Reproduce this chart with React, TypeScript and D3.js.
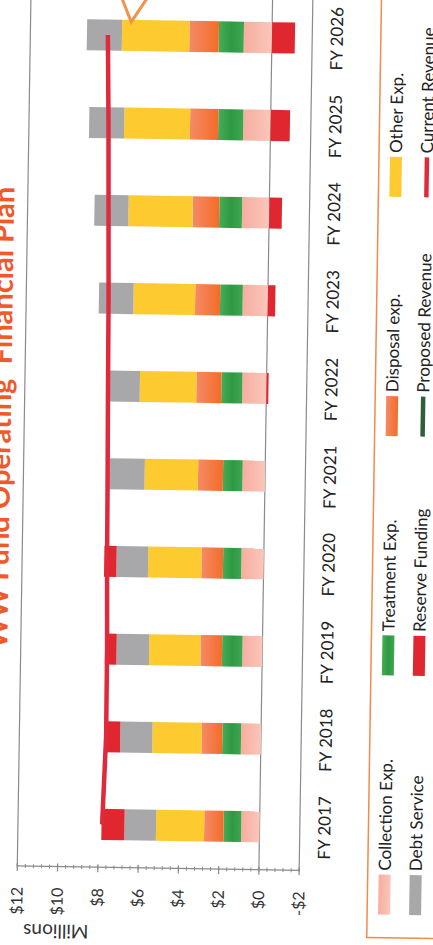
import React from 'react';
import * as d3 from 'd3';

// Fiscal years and the stacked budget components (millions of dollars)
const years = ['FY 2017', 'FY 2018', 'FY 2019', 'FY 2020', 'FY 2021', 'FY 2022', 'FY 2023', 'FY 2024', 'FY 2025', 'FY 2026'];
const collectionExp = [0.91, 0.99, 0.99, 1.11, 1.12, 1.2, 1.25, 1.35, 1.36, 1.4];
const treatmentExp = [0.88, 0.93, 1.01, 0.91, 0.97, 1.04, 1.12, 1.13, 1.24, 1.24];
const disposalExp = [0.96, 1.02, 1.06, 1.07, 1.24, 1.24, 1.24, 1.32, 1.4, 1.46];
const otherExp = [2.39, 2.45, 2.56, 2.65, 2.65, 2.81, 3.06, 3.19, 3.27, 3.35];
const debtService = [1.57, 1.6, 1.62, 1.57, 1.75, 1.54, 1.72, 1.69, 1.74, 1.74];
const reserveFunding = [1.14, 0.78, 0.57, 0.61, 0, -0.1, -0.37, -0.63, -0.96, -1.14];
const currentRevenue = [7.82, 7.69, 7.71, 7.78, 7.82, 7.87, 7.91, 7.98, 8.05, 8.15];

const valueTicks = [12, 10, 8, 6, 4, 2, 0, -2];
const seriesKeys = ['collection', 'treatment', 'disposal', 'other', 'debt', 'reserve'];
const seriesLabels = ['Collection Exp.', 'Treatment Exp.', 'Disposal exp.', 'Other Exp.', 'Debt Service', 'Reserve Funding'];
const lineLabels = ['Proposed Revenue', 'Current Revenue'];
const chartTitle = 'WW Fund Operating  Financial Plan';
const axisTitle = 'Millions';

const FONT = "Lato, 'Open Sans', sans-serif";

const fills: Record<string, string> = {
  collection: 'url(#g-collection)',
  treatment: 'url(#g-treatment)',
  disposal: 'url(#g-disposal)',
  other: '#FDCA30',
  debt: '#A8A8AB',
  reserve: '#E0262E',
};

const fmtMoney = (v: number) => (v < 0 ? `-$${-v}` : `$${v}`);

export default function App() {
  const W = 433;
  const H = 945;

  // value axis runs across the page, categories run bottom to top
  const x = d3.scaleLinear().domain([-2, 12]).range([305.4, 23.5]);
  const y = d3
    .scaleBand<string>()
    .domain(years)
    .range([870, -7])
    .paddingInner(0.646)
    .paddingOuter(0.323);
  const axisY = 869;

  const rows = years.map((yr, i) => ({
    year: yr,
    collection: collectionExp[i],
    treatment: treatmentExp[i],
    disposal: disposalExp[i],
    other: otherExp[i],
    debt: debtService[i],
    reserve: reserveFunding[i],
  }));
  const stacked = d3
    .stack<any>()
    .keys(seriesKeys)
    .offset(d3.stackOffsetDiverging)(rows);

  const revenueLine = d3
    .line<number>()
    .x((d) => x(d))
    .y((_, i) => (y(years[i]) as number) + y.bandwidth() / 2);

  const minorTicks = d3.range(-2, 12.0001, 0.4);

  // legend layout: two columns of four entries
  const legendCols = [397, 428];
  const legendBottom = 912;
  const legendStep = 239.3;
  const swatchLen = 40;
  const legendItems = [
    ...seriesLabels.map((label, i) => ({ label, kind: 'rect', fill: fills[seriesKeys[i]] })),
    { label: lineLabels[0], kind: 'line', fill: '#2E5E3C' },
    { label: lineLabels[1], kind: 'line', fill: '#DF2A3C' },
  ];

  const tipX = x(7);
  const tipY = (y('FY 2026') as number) + 2;

  return (
    <svg
      width={W}
      height={H}
      viewBox={`0 0 ${W} ${H}`}
      style={{ position: 'absolute', left: 0, top: 0, background: '#fff' }}
      fontFamily={FONT}
    >
      <defs>
        <linearGradient id="g-collection" x1="0" x2="1" y1="0" y2="0">
          <stop offset="0" stopColor="#F6AE9F" />
          <stop offset="1" stopColor="#FAC6BB" />
        </linearGradient>
        <linearGradient id="g-treatment" x1="0" x2="1" y1="0" y2="0">
          <stop offset="0" stopColor="#47AC55" />
          <stop offset="0.5" stopColor="#2E9944" />
          <stop offset="1" stopColor="#3EA74F" />
        </linearGradient>
        <linearGradient id="g-disposal" x1="0" x2="1" y1="0" y2="0">
          <stop offset="0" stopColor="#F58A66" />
          <stop offset="1" stopColor="#F36C28" />
        </linearGradient>
      </defs>
      <rect width={W} height={H} fill="#fff" />
      <g transform="rotate(0.9, 216, 472)">
        {/* title */}
        <text
          transform={`translate(10, 421) rotate(-90)`}
          textAnchor="middle"
          fontSize={29}
          fontWeight={700}
          fill="#F0592A"
          style={{ whiteSpace: 'pre' }}
        >
          {chartTitle}
        </text>

        {/* plot frame and zero line */}
        {[12, 0, -2].map((v) => (
          <line key={v} x1={x(v)} x2={x(v)} y1={-30} y2={axisY} stroke="#8A8A8A" strokeWidth={1.2} />
        ))}

        {/* value axis */}
        <line x1={x(12)} x2={x(-2)} y1={axisY} y2={axisY} stroke="#8A8A8A" strokeWidth={1.2} />
        {minorTicks.map((v, i) => (
          <line key={`m${i}`} x1={x(v)} x2={x(v)} y1={axisY - 2} y2={axisY + 2} stroke="#8A8A8A" strokeWidth={1} />
        ))}
        {valueTicks.map((v) => (
          <line key={`t${v}`} x1={x(v)} x2={x(v)} y1={axisY - 3} y2={axisY + 5} stroke="#8A8A8A" strokeWidth={1.2} />
        ))}
        {valueTicks.map((v) => (
          <text
            key={`l${v}`}
            transform={`translate(${x(v)}, 890) rotate(-90)`}
            textAnchor="end"
            dy="0.35em"
            fontSize={16}
            fill="#333"
          >
            {fmtMoney(v)}
          </text>
        ))}
        <text transform={`translate(63, 927) rotate(180)`} textAnchor="middle" fontSize={19} fill="#333">
          {axisTitle}
        </text>

        {/* stacked bars */}
        {stacked.map((s) => (
          <g key={s.key}>
            {s.map((d, i) => {
              const a = x(d[0]);
              const b = x(d[1]);
              return (
                <rect
                  key={i}
                  x={Math.min(a, b)}
                  width={Math.abs(a - b)}
                  y={y(years[i])}
                  height={y.bandwidth()}
                  fill={fills[s.key]}
                />
              );
            })}
          </g>
        ))}

        {/* revenue line */}
        <path d={revenueLine(currentRevenue) || ''} fill="none" stroke="#DF2A3C" strokeWidth={4.5} strokeLinejoin="round" />

        {/* callout marker above the last year */}
        <path
          d={`M${tipX - 14},${tipY - 34}L${tipX},${tipY}L${tipX + 22},${tipY - 34}`}
          fill="none"
          stroke="#F3924A"
          strokeWidth={3}
        />

        {/* category labels */}
        {years.map((yr) => (
          <text
            key={yr}
            transform={`translate(336, ${(y(yr) as number) + y.bandwidth() / 2}) rotate(-90)`}
            textAnchor="middle"
            fontSize={17}
            fill="#222"
          >
            {yr}
          </text>
        ))}

        {/* legend */}
        <rect x={374} y={-40} width={120} height={975} fill="none" stroke="#F28A4C" strokeWidth={1.5} />
        {legendItems.map((it, i) => {
          const col = i < 4 ? 0 : 1;
          const row = i % 4;
          const base = legendCols[col];
          const bottom = legendBottom - row * legendStep;
          const mid = base - 6;
          return (
            <g key={it.label}>
              {it.kind === 'rect' ? (
                <rect x={mid - 6} y={bottom - swatchLen} width={12} height={swatchLen} fill={it.fill} />
              ) : (
                <line x1={mid} x2={mid} y1={bottom} y2={bottom - swatchLen} stroke={it.fill} strokeWidth={4.5} />
              )}
              <text
                transform={`translate(${base}, ${bottom - swatchLen - 4}) rotate(-90)`}
                fontSize={17}
                fill="#222"
              >
                {it.label}
              </text>
            </g>
          );
        })}
      </g>
    </svg>
  );
}
